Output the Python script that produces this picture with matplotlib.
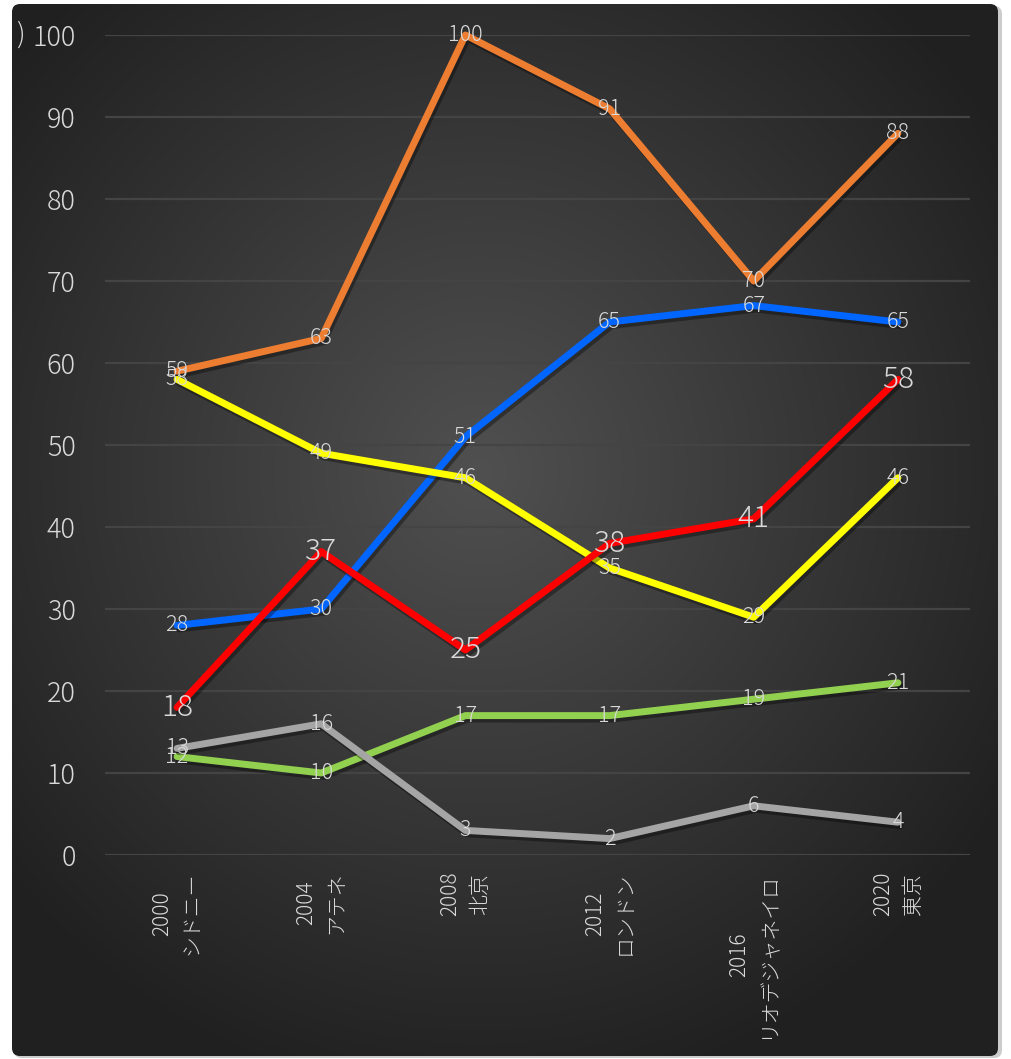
import numpy as np
import matplotlib
matplotlib.use("Agg")
import matplotlib.pyplot as plt
from matplotlib.patches import FancyBboxPatch
import matplotlib.patheffects as pe

plt.rcParams['font.family'] = ['Noto Sans CJK JP', 'DejaVu Sans']

years = ["2000", "2004", "2008", "2012", "2016", "2020"]
cities = ["シドニー", "アテネ", "北京", "ロンドン", "リオデジャネイロ", "東京"]

orange = [59, 63, 100, 91, 70, 88]
blue = [28, 30, 51, 65, 67, 65]
yellow = [58, 49, 46, 35, 29, 46]
red = [18, 37, 25, 38, 41, 58]
green = [12, 10, 17, 17, 19, 21]
gray = [13, 16, 3, 2, 6, 4]

series = [
    (orange, "#ED7D31", 15.5),
    (blue, "#0066FF", 15.5),
    (yellow, "#FFFF00", 15.5),
    (red, "#FF0000", 21.5),
    (green, "#92D050", 15.5),
    (gray, "#A5A5A5", 15.5),
]

W, H = 1011, 1059
fig = plt.figure(figsize=(W / 100, H / 100), dpi=100)
fig.patch.set_facecolor("white")

# background with radial gradient
bg = fig.add_axes([0, 0, 1, 1], zorder=-10)
bg.set_xlim(0, W)
bg.set_ylim(H, 0)
bg.axis("off")
yy, xx = np.mgrid[0:H, 0:W]
r = np.sqrt(((xx - 480) / 620.0) ** 2 + ((yy - 470) / 640.0) ** 2)
r = np.clip(r, 0, 1)
c0 = np.array([0x50, 0x50, 0x50]) / 255
c1 = np.array([0x20, 0x20, 0x20]) / 255
img = c0[None, None, :] * (1 - r[..., None]) + c1[None, None, :] * r[..., None]
shadow = FancyBboxPatch((14, 6), 988, 1052, boxstyle="round,pad=0,rounding_size=8",
                        facecolor="#9a9a9a", edgecolor="none", alpha=0.5)
bg.add_patch(shadow)
box = FancyBboxPatch((12, 4), 986, 1052, boxstyle="round,pad=0,rounding_size=8",
                     facecolor="none", edgecolor="none")
bg.add_patch(box)
im = bg.imshow(img, extent=(0, W, H, 0), aspect="auto", zorder=1)
im.set_clip_path(box)

ax = fig.add_axes([105 / W, 1 - 855 / H, 865 / W, 820 / H])
ax.set_facecolor("none")
x = np.arange(len(years))
ax.set_xlim(-0.5, len(years) - 0.5)
ax.set_ylim(0, 100)
ax.set_yticks(np.arange(0, 101, 10))
ax.grid(axis="y", color="#444444", linewidth=1.6)
ax.set_axisbelow(True)
for s in ax.spines.values():
    s.set_visible(False)
ax.tick_params(axis="y", length=0, pad=21, labelsize=19.5, labelcolor="#d9d9d9")
for t in ax.get_yticklabels():
    t.set_fontweight("light")
ax.tick_params(axis="x", length=0)
ax.set_xticks(x)
ax.set_xticklabels([])

for i, (yr, ct) in enumerate(zip(years, cities)):
    ax.annotate(yr + "\n" + ct, xy=(i, 0), xycoords="data",
                xytext=(0, -12), textcoords="offset points",
                rotation=90, ha="center", va="top", multialignment="center",
                fontsize=15, color="#d9d9d9", linespacing=1.45, fontweight="light",
                annotation_clip=False)

for k, (vals, col, fs) in enumerate(series):
    ax.plot(x, vals, color=col, linewidth=5, solid_capstyle="round",
            solid_joinstyle="round", clip_on=False, zorder=3 + k,
            path_effects=[pe.SimpleLineShadow(offset=(1.5, -2.5), shadow_color="black", alpha=0.35),
                          pe.Normal()])

for k, (vals, col, fs) in enumerate(series):
    for xi, v in zip(x, vals):
        ax.text(xi, v, str(v), ha="center", va="center", fontsize=fs,
                color="#d9d9d9", zorder=20, clip_on=False, fontweight="light")

fig.text(25 / W, 1 - 35 / H, ")", ha="right", va="center", fontsize=20,
         color="#d9d9d9", fontweight="light")

fig.savefig("out.png", dpi=100, facecolor=fig.get_facecolor())
